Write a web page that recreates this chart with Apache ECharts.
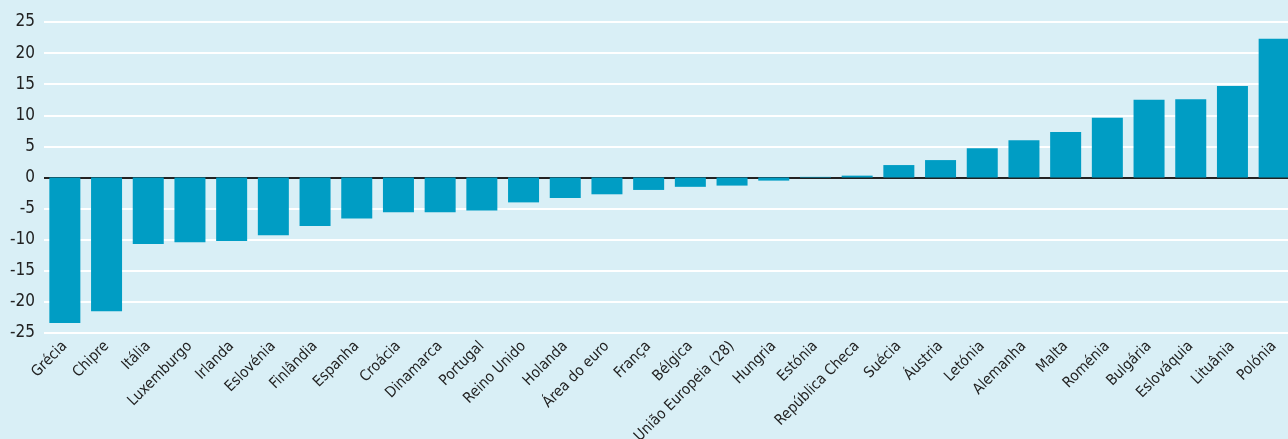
<!DOCTYPE html>
<html>
<head>
    <meta charset="utf-8">
    <script src="https://cdn.jsdelivr.net/npm/echarts@6/dist/echarts.min.js"></script>
    <style>
        *{
            margin:0;
            padding:0;
        }
        body{
            background:#d9eff6;
        }
    </style>
</head>
<body>
    <div id="main" style="width: 1288px;height:439px;"></div>
    <script type="text/javascript">

    var countries = ['Grécia','Chipre','Itália','Luxemburgo','Irlanda','Eslovénia','Finlândia','Espanha','Croácia','Dinamarca',
        'Portugal','Reino Unido','Holanda','Área do euro','França','Bélgica','União Europeia (28)','Hungria','Estónia','República Checa',
        'Suécia','Áustria','Letónia','Alemanha','Malta','Roménia','Bulgária','Eslováquia','Lituânia','Polónia'];
    var values = [-23.4,-21.5,-10.7,-10.4,-10.2,-9.3,-7.8,-6.6,-5.6,-5.6,
        -5.3,-4.0,-3.3,-2.7,-2.0,-1.5,-1.3,-0.5,0.1,0.3,
        2.0,2.8,4.7,6.0,7.3,9.6,12.5,12.6,14.7,22.3];
    var yMin = -25, yMax = 25, yStep = 5;

    var font = '"Liberation Sans Narrow", "DejaVu Sans Condensed", sans-serif';
    var myChart = echarts.init(document.getElementById('main'));

    myChart.setOption({
        backgroundColor: '#d9eff6',
        animation: false,
        grid: {
            left: 44,
            right: -7,
            top: 22,
            bottom: 106,
            containLabel: false,
            outerBoundsMode: 'none'
        },
        xAxis: {
            type: 'category',
            data: countries,
            axisLine: { show: false, onZero: false },
            axisTick: { show: false },
            axisLabel: {
                interval: 0,
                rotate: 45,
                margin: 11,
                fontSize: 15,
                fontFamily: font,
                color: '#222'
            }
        },
        yAxis: {
            type: 'value',
            min: yMin,
            max: yMax,
            interval: yStep,
            axisLine: { show: false },
            axisTick: { show: false },
            axisLabel: {
                margin: 9,
                fontSize: 17,
                fontFamily: font,
                color: '#222'
            },
            splitLine: {
                lineStyle: { color: '#ffffff', width: 2 }
            }
        },
        series: [
            {
                type: 'bar',
                data: values,
                barWidth: 31,
                itemStyle: { color: '#009dc4' },
                markLine: {
                    silent: true,
                    symbol: ['none','none'],
                    label: { show: false },
                    lineStyle: { color: '#222', width: 2, type: 'solid' },
                    data: [{ yAxis: 0 }],
                    z: 1
                }
            }
        ]
    });
</script>
</body>
</html>
